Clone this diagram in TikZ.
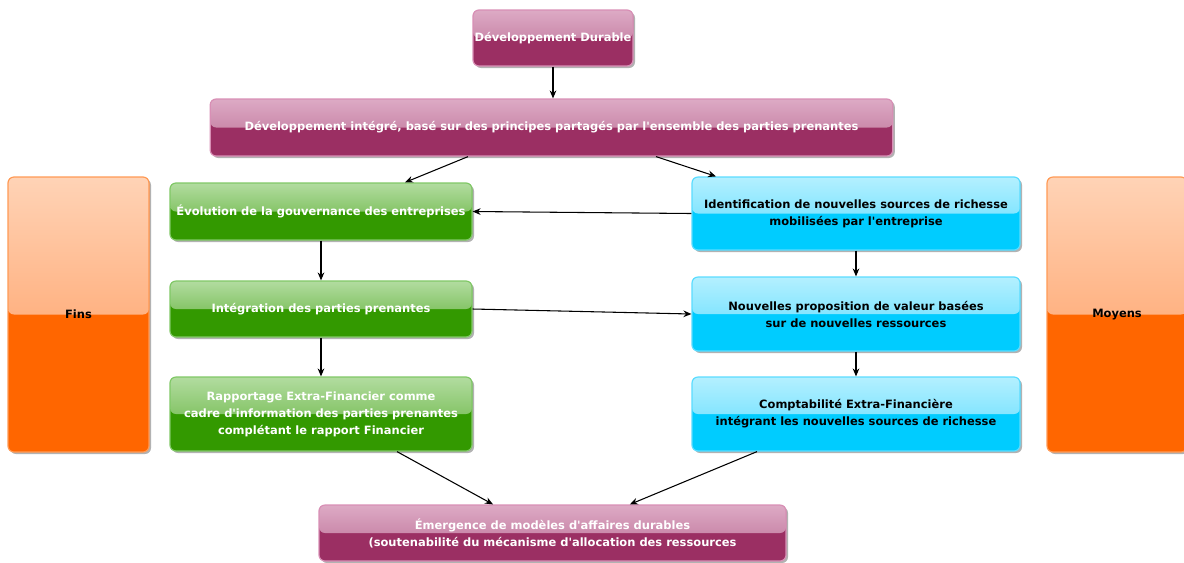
\documentclass[tikz,border=0pt]{standalone}
\usepackage{fontspec}
\newfontfamily\boxfont{DejaVu Sans}
\usetikzlibrary{arrows.meta,shadows,calc}
\definecolor{magbase}{HTML}{9B2F63}
\definecolor{magtop}{HTML}{DDAAC5}
\definecolor{magmid}{HTML}{B96A91}
\definecolor{magborder}{HTML}{D88FB5}
\definecolor{grnbase}{HTML}{339900}
\definecolor{grntop}{HTML}{B2DCA0}
\definecolor{grnmid}{HTML}{5AAE30}
\definecolor{grnborder}{HTML}{80C866}
\definecolor{blubase}{HTML}{00CCFF}
\definecolor{blutop}{HTML}{B4F0FF}
\definecolor{blumid}{HTML}{55DBFF}
\definecolor{bluborder}{HTML}{5ADCFF}
\definecolor{orgbase}{HTML}{FF6600}
\definecolor{orgtop}{HTML}{FFD3B6}
\definecolor{orgmid}{HTML}{FF9250}
\definecolor{orgborder}{HTML}{FF9A55}
\tikzset{
  box/.style={rounded corners=4.5pt, draw=#1border, line width=0.9pt, fill=#1base,
    drop shadow={shadow xshift=1.5pt, shadow yshift=-1.5pt, opacity=0.3, fill=black},
    path picture={\fill[top color=#1top, bottom color=#1mid]
      (path picture bounding box.north west) rectangle (path picture bounding box.east);},
    align=center, inner sep=0pt,
    font=\boxfont\fontsize{8.6}{12.75}\selectfont\bfseries},
  arr/.style={-{Stealth[length=6pt,width=5pt]}, line width=0.8pt, black}
}
\begin{document}
\begin{tikzpicture}[x=0.75pt,y=-0.75pt]
\useasboundingbox (0,0) rectangle (1184,562);
\node[box=mag, text=white, minimum width=120pt, minimum height=42pt] (dd) at (553,38) {Développement Durable};
\node[box=mag, text=white, minimum width=512pt, minimum height=42.75pt] (di) at (551.5,127.5) {Développement intégré, basé sur des principes partagés par l'ensemble des parties prenantes};
\node[box=grn, text=white, minimum width=226.5pt, minimum height=42.75pt] (g1) at (321,211.5) {Évolution de la gouvernance des entreprises};
\node[box=grn, text=white, minimum width=226.5pt, minimum height=42pt] (g2) at (321,309) {Intégration des parties prenantes};
\node[box=grn, text=white, minimum width=226.5pt, minimum height=55.5pt] (g3) at (321,414) {Rapportage Extra-Financier comme\\cadre d'information des parties prenantes\\complétant le rapport Financier};
\node[box=blu, text=black, minimum width=246pt, minimum height=54.75pt] (b1) at (856,213.5) {Identification de nouvelles sources de richesse\\mobilisées par l'entreprise};
\node[box=blu, text=black, minimum width=246pt, minimum height=55.5pt] (b2) at (856,314) {Nouvelles proposition de valeur basées\\sur de nouvelles ressources};
\node[box=blu, text=black, minimum width=246pt, minimum height=55.5pt] (b3) at (856,414) {Comptabilité Extra-Financière\\intégrant les nouvelles sources de richesse};
\node[box=org, text=black, minimum width=105.75pt, minimum height=206.25pt] (fins) at (78.5,314.5) {Fins};
\node[box=org, text=black, minimum width=105pt, minimum height=206.25pt] (moy) at (1117,314.5) {Moyens};
\node[box=mag, text=white, minimum width=350.25pt, minimum height=42pt] (em) at (552.5,533) {Émergence de modèles d'affaires durables\\(soutenabilité du mécanisme d'allocation des ressources};
\draw[arr] (dd.south) -- (dd.south |- di.north);
\draw[arr] ([xshift=-62.6pt]di.south) -- ([xshift=63pt]g1.north);
\draw[arr] ([xshift=78.4pt]di.south) -- ([xshift=-105pt]b1.north);
\draw[arr] (b1.west) -- (g1.east);
\draw[arr] (g1.south) -- (g2.north);
\draw[arr] (g2.south) -- (g3.north);
\draw[arr] (g2.east) -- (b2.west);
\draw[arr] (b1.south) -- (b2.north);
\draw[arr] (b2.south) -- (b3.north);
\draw[arr] ([xshift=57pt]g3.south) -- ([xshift=-44.6pt]em.north);
\draw[arr] ([xshift=-74.25pt]b3.south) -- ([xshift=58pt]em.north);
\end{tikzpicture}
\end{document}
